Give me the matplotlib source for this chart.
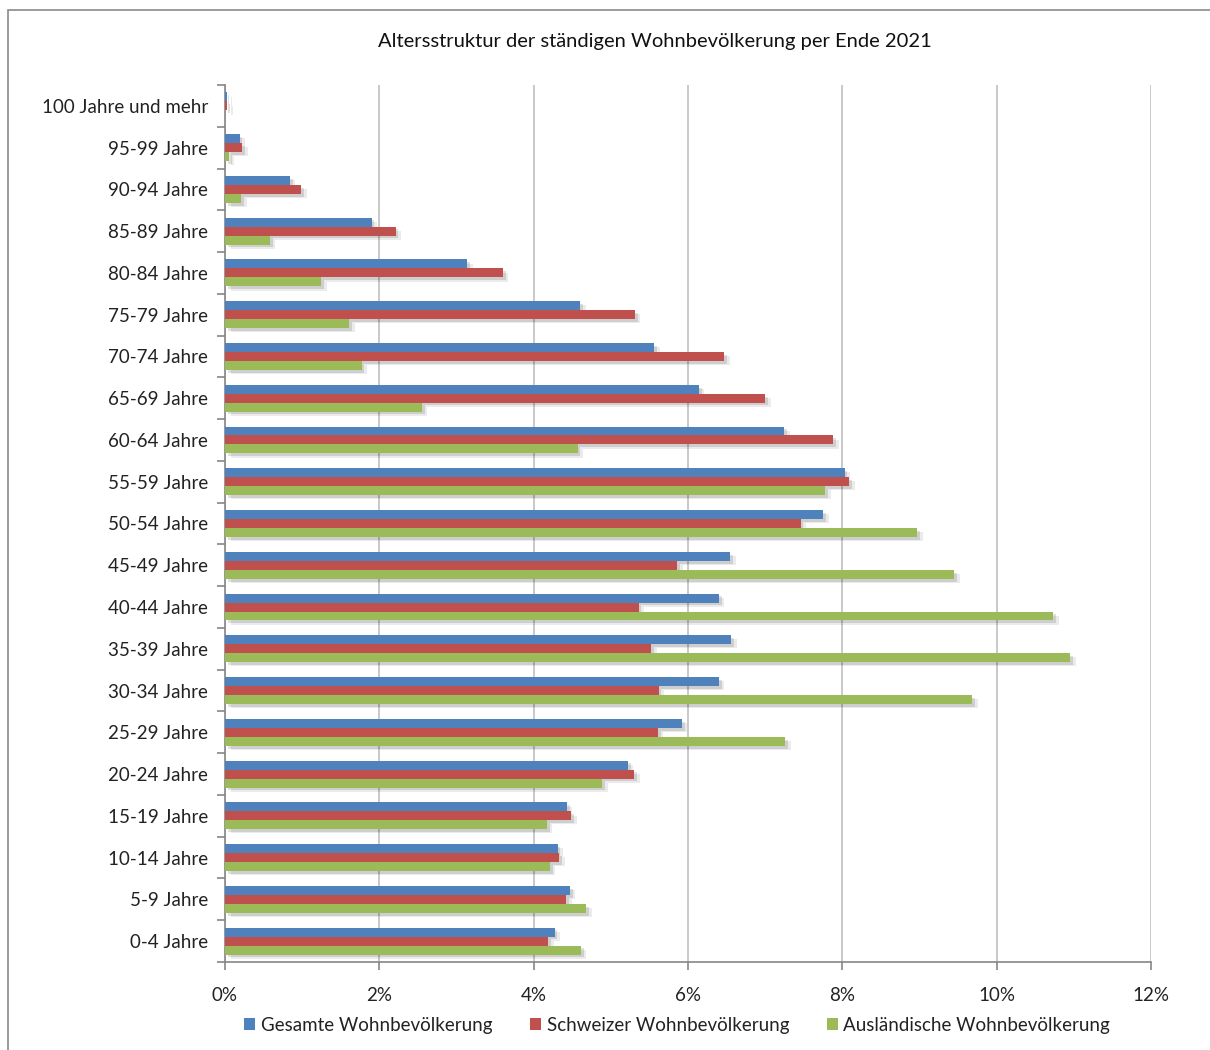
import numpy as np
import matplotlib.pyplot as plt
import matplotlib.patheffects as pe
from matplotlib.patches import Rectangle, Patch

# Data (percent of each population group), bottom to top
age_groups = ["0-4 Jahre", "5-9 Jahre", "10-14 Jahre", "15-19 Jahre", "20-24 Jahre",
              "25-29 Jahre", "30-34 Jahre", "35-39 Jahre", "40-44 Jahre", "45-49 Jahre",
              "50-54 Jahre", "55-59 Jahre", "60-64 Jahre", "65-69 Jahre", "70-74 Jahre",
              "75-79 Jahre", "80-84 Jahre", "85-89 Jahre", "90-94 Jahre", "95-99 Jahre",
              "100 Jahre und mehr"]
gesamt = [4.27, 4.47, 4.31, 4.43, 5.22, 5.92, 6.40, 6.56, 6.40, 6.55,
          7.75, 8.03, 7.25, 6.14, 5.56, 4.60, 3.14, 1.90, 0.84, 0.19, 0.02]
schweizer = [4.19, 4.42, 4.33, 4.49, 5.30, 5.61, 5.62, 5.52, 5.36, 5.86,
             7.46, 8.09, 7.88, 7.00, 6.47, 5.31, 3.60, 2.21, 0.99, 0.22, 0.03]
auslaender = [4.61, 4.68, 4.21, 4.17, 4.89, 7.26, 9.68, 10.95, 10.73, 9.45,
              8.97, 7.78, 4.57, 2.55, 1.77, 1.61, 1.25, 0.58, 0.21, 0.05, 0.005]
series_names = ["Gesamte Wohnbevölkerung", "Schweizer Wohnbevölkerung",
                "Ausländische Wohnbevölkerung"]
x_ticks = [0, 2, 4, 6, 8, 10, 12]

colors = ["#4F81BD", "#C0504D", "#9BBB59"]
plt.rcParams['font.family'] = ['Lato', 'DejaVu Sans']

fig = plt.figure(figsize=(12.1, 10.5), dpi=100)
W, H = 1210, 1050
ax = fig.add_axes([225 / W, 1 - 962 / H, (1151 - 225) / W, (962 - 85) / H])

# outer chart frame
fig.patches.append(Rectangle((8 / W, -0.01), 1.05, 1 - 10 / H + 0.01, transform=fig.transFigure,
                             fill=False, edgecolor="#8a8a8a", linewidth=1.2))

y = np.arange(len(age_groups))
h = 0.215
# soft drop shadow, two layers
shadow = [pe.SimplePatchShadow(offset=(4, -3), shadow_rgbFace="black", alpha=0.08),
          pe.SimplePatchShadow(offset=(2, -2), shadow_rgbFace="black", alpha=0.12),
          pe.Normal()]
for k, vals in enumerate([gesamt, schweizer, auslaender]):
    bars = ax.barh(y + h * (1 - k), vals, height=h, color=colors[k], zorder=3)
    for b in bars:
        b.set_path_effects(shadow)

ax.set_xlim(0, 12)
ax.set_ylim(-0.5, len(age_groups) - 0.5)
ax.set_xticks(x_ticks)
ax.set_xticklabels([f"{t}%" for t in x_ticks], fontsize=13.5, color="#222222")
ax.set_yticks(y)
ax.set_yticklabels(age_groups, fontsize=13.5, color="#222222")
ax.tick_params(axis='y', length=0, pad=12)
ax.set_yticks(np.arange(-0.5, len(age_groups), 1), minor=True)
ax.tick_params(axis='y', which='minor', length=6, color="#868686", width=1.2)
ax.tick_params(axis='x', length=6, color="#868686", width=1.2, pad=12, direction='out')

ax.grid(axis='x', color="#c0c0c0", linewidth=1.2, zorder=0)
ax.set_axisbelow(True)
for s in ["top", "right"]:
    ax.spines[s].set_visible(False)
for s in ["left", "bottom"]:
    ax.spines[s].set_color("#868686")
    ax.spines[s].set_linewidth(1.2)

fig.text(655 / W, 1 - 42 / H, "Altersstruktur der ständigen Wohnbevölkerung per Ende 2021",
         ha='center', va='center', fontsize=14.5, color="#111111")

handles = [Patch(facecolor=c, label=n) for c, n in zip(colors, series_names)]
fig.legend(handles=handles, loc='center', bbox_to_anchor=(677 / W, 1 - 1025 / H), ncol=3,
           frameon=False, fontsize=13.5, handlelength=0.6, handleheight=0.6,
           handletextpad=0.3, columnspacing=2.0, labelcolor="#222222")

fig.savefig("out.png", dpi=100)
